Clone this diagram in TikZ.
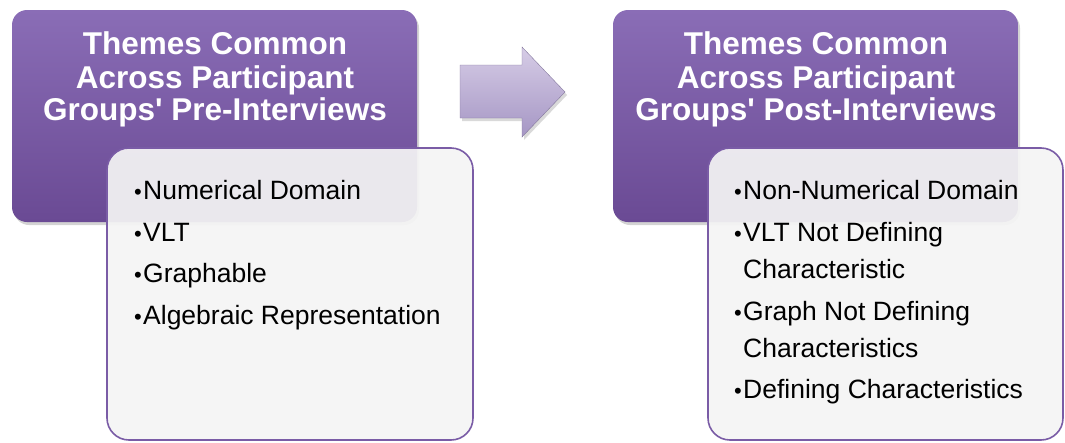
\documentclass[tikz,border=0pt]{standalone}
\usepackage{fontspec}
\setmainfont{Liberation Sans}
\usetikzlibrary{shadows}
\definecolor{purpTop}{HTML}{8A6DB6}
\definecolor{purpBot}{HTML}{6A4A94}
\definecolor{purpEdge}{HTML}{7A5CA6}
\definecolor{boxFill}{HTML}{F4F4F4}
\definecolor{arrTop}{HTML}{D6CCE6}
\definecolor{arrBot}{HTML}{A596C4}
\tikzset{
  headbox/.style={rounded corners=15pt, top color=purpTop, bottom color=purpBot, draw=none,
    drop shadow={opacity=0.35, shadow xshift=2pt, shadow yshift=-3pt}},
  listbox/.style={rounded corners=22pt, fill=boxFill, fill opacity=0.93, draw=purpEdge, line width=1.6pt, draw opacity=1},
  headtxt/.style={anchor=base, text=white, font=\bfseries\fontsize{31.5}{33}\selectfont, inner sep=0pt},
  bul/.style={anchor=base west, font=\fontsize{22}{30}\selectfont, inner sep=0pt},
  itemtxt/.style={anchor=base west, font=\fontsize{26.5}{30}\selectfont, inner sep=0pt},
  bigarrow/.style={top color=arrTop, bottom color=arrBot, draw=arrBot!80!black, line width=0.4pt,
    drop shadow={opacity=0.3, shadow xshift=2pt, shadow yshift=-3pt}}
}
\begin{document}
\begin{tikzpicture}[x=1pt,y=-1pt]
\useasboundingbox (0,0) rectangle (1065,442);
% left
\path[headbox] (12,10) rectangle (417,222);
\node[headtxt] (l1) at (215,54) {Themes Common};
\node[headtxt] (l2) at (215,88) {Across Participant};
\node[headtxt] (l3) at (215,120) {Groups\textquotesingle\ Pre-Interviews};
\path[listbox] (107,148) rectangle (473,440);
\node[bul] (lb1) at (134,199) {•}; \node[itemtxt] (li1) at (143,199) {Numerical Domain};
\node[bul] (lb2) at (134,241) {•}; \node[itemtxt] (li2) at (143,241) {VLT};
\node[bul] (lb3) at (134,282) {•}; \node[itemtxt] (li3) at (143,282) {Graphable};
\node[bul] (lb4) at (134,324) {•}; \node[itemtxt] (li4) at (143,324) {Algebraic Representation};
% arrow
\path[bigarrow] (460,65) -- (522,65) -- (522,47) -- (565,92) -- (522,137) -- (522,118) -- (460,118) -- cycle;
% right
\path[headbox] (613,10) rectangle (1018,222);
\node[headtxt] (r1) at (816,54) {Themes Common};
\node[headtxt] (r2) at (816,88) {Across Participant};
\node[headtxt] (r3) at (816,120) {Groups\textquotesingle\ Post-Interviews};
\path[listbox] (708,148) rectangle (1063,440);
\node[bul] (rb1) at (734,199) {•}; \node[itemtxt] (ri1) at (743,199) {Non-Numerical Domain};
\node[bul] (rb2) at (734,241) {•}; \node[itemtxt] (ri2) at (743,241) {VLT Not Defining};
\node[itemtxt] (ri2b) at (743,278) {Characteristic};
\node[bul] (rb3) at (734,320) {•}; \node[itemtxt] (ri3) at (743,320) {Graph Not Defining};
\node[itemtxt] (ri3b) at (743,357) {Characteristics};
\node[bul] (rb4) at (734,398) {•}; \node[itemtxt] (ri4) at (743,398) {Defining Characteristics};
\end{tikzpicture}
\end{document}
